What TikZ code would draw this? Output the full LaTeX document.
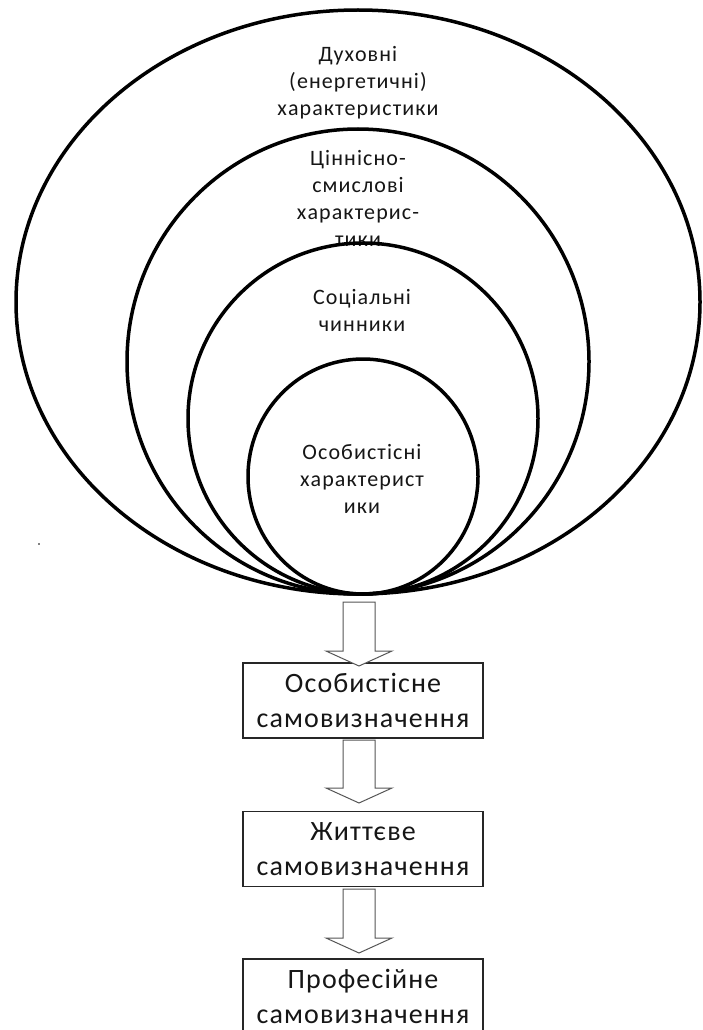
\documentclass[tikz,border=0pt]{standalone}
\usepackage{fontspec}
\setmainfont{Carlito}
\newfontfamily\ellfont[LetterSpace=5]{Carlito}
\newfontfamily\boxfont[LetterSpace=4]{Carlito}
\usetikzlibrary{calc}
\definecolor{txt}{HTML}{161616}
\definecolor{arrline}{HTML}{555555}
\tikzset{
  ring/.style={line width=3.5pt, draw=black},
  elltext/.style={align=center, inner sep=0pt, text=txt, font=\ellfont\fontsize{22}{27}\selectfont},
  stagebox/.style={draw=black!85, line width=1.4pt, minimum width=240pt, minimum height=75pt, inner sep=0pt, align=center, text=txt, font=\boxfont\fontsize{28}{35}\selectfont},
  blockarr/.style={draw=arrline, line width=1pt, fill=white, line join=miter},
}
\newcommand\blkarrow[2]{%
  \draw[blockarr] let \p1=(#1), \p2=(#2) in
    (\x1-16pt,\y1) -- (\x1+16pt,\y1) -- (\x1+16pt,\y2+15pt) -- (\x1+33pt,\y2+15pt)
    -- (\x1,\y2) -- (\x1-33pt,\y2+15pt) -- (\x1-16pt,\y2+15pt) -- cycle;}
\begin{document}
\begin{tikzpicture}[x=1pt,y=-1pt]
  \useasboundingbox (0,0) rectangle (702,1030);
  \clip (0,0) rectangle (702,1030);
  \fill[white] (0,0) rectangle (702,1030);

  % texts inside the rings
  \node[elltext] (t1) at (358,83) {Духовні\\(енергетичні)\\характеристики};
  \node[elltext] (t2) at (358,198) {Ціннісно-\\смислові\\характерис-\\тики};
  \node[elltext] (t3) at (362,310) {Соціальні\\чинники};
  \node[elltext] (t4) at (362,479) {Особистісні\\характерист\\ики};

  % rings, all touching at the bottom
  \draw[ring] (358,302) ellipse [x radius=342pt, y radius=292pt];
  \draw[ring] (358,361.5) ellipse [x radius=231pt, y radius=232.5pt];
  \draw[ring] (363,418.5) ellipse [x radius=175pt, y radius=175.5pt];
  \draw[ring] (363,476.5) ellipse [x radius=115pt, y radius=117.5pt];

  % stray dot
  \fill[black] (39,544) circle (0.8pt);

  % stage boxes
  \node[stagebox] (b1) at (363,700.5) {Особистісне\\самовизначення};
  \node[stagebox] (b2) at (363,849) {Життєве\\самовизначення};
  \node[stagebox] (b3) at (363,996.5) {Професійне\\самовизначення};

  % arrow end points
  \coordinate (a1s) at (359,602);
  \coordinate (a1e) at (359,666);
  \coordinate (a2s) at (359,740);
  \coordinate (a2e) at (359,803);
  \coordinate (a3s) at (359,889);
  \coordinate (a3e) at (359,953);

  \blkarrow{a1s}{a1e}
  \blkarrow{a2s}{a2e}
  \blkarrow{a3s}{a3e}
\end{tikzpicture}
\end{document}
